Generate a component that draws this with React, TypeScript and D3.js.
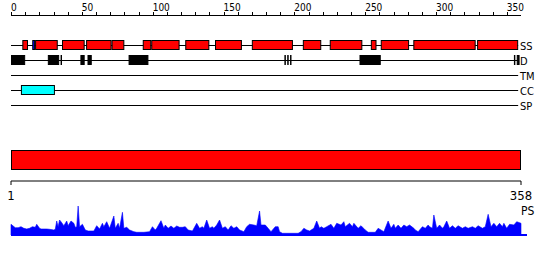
import React from "react";
import * as d3 from "d3";

const SEQ_LEN = 358;
const TOP_TICKS = d3.range(0, 351, 10);
const TOP_LABELS = [0, 50, 100, 150, 200, 250, 300, 350];
const TRACK_NAMES = ["SS", "D", "TM", "CC", "SP"];

// secondary structure: helices (red) and strand (blue), residue ranges
const HELICES: [number, number][] = [
  [8, 12], [17, 33], [36, 52], [53, 71], [71, 80], [93, 99], [99, 119],
  [123, 140], [144, 163], [170, 199], [206, 219], [225, 248], [254, 258],
  [261, 281], [284, 328], [329, 358],
];
const STRANDS: [number, number][] = [[15, 17]];
const DISORDER: [number, number][] = [
  [0, 10], [26, 34], [35, 36], [49, 52], [54, 57], [83, 97], [193, 194],
  [195, 196], [197, 198], [246, 261], [355, 356], [357, 359],
];
const COILED: [number, number][] = [[7, 31]];
const DOMAINS: [number, number][] = [[1, 358]];

// profile score per residue
const PS_RES = [
  1, 4, 6, 8, 10, 12, 14, 16, 18, 19, 21, 22, 26, 28, 31, 32, 33, 34, 35, 36,
  38, 40, 41, 43, 45, 46, 47, 48, 49, 51, 53, 55, 59, 61, 63, 65, 66, 68, 70, 73,
  74, 76, 77, 79, 80, 82, 84, 87, 89, 94, 98, 100, 102, 103, 106, 108, 109, 111, 113, 115,
  117, 119, 121, 123, 125, 128, 131, 133, 135, 136, 138, 140, 142, 143, 145, 147, 149, 151, 153, 155,
  157, 159, 161, 164, 166, 168, 171, 173, 175, 176, 179, 181, 183, 186, 188, 189, 191, 202, 204, 206,
  208, 210, 213, 215, 217, 218, 220, 222, 225, 227, 229, 232, 234, 235, 238, 240, 241, 244, 246, 249,
  251, 256, 258, 260, 262, 265, 267, 269, 270, 272, 274, 276, 278, 280, 283, 284, 286, 289, 291, 293,
  294, 296, 297, 299, 301, 303, 304, 306, 308, 310, 312, 314, 317, 319, 321, 324, 326, 328, 331, 333,
  335, 337, 339, 341, 343, 345, 346, 348, 350, 353, 355, 358,
];
const PS_VAL = [
  10.7, 7.3, 7.3, 8.3, 6.7, 6, 6.7, 8.3, 7.7, 10.7, 6.7, 6, 6, 5.7, 5, 5.7, 14, 8.3, 15, 13.3,
  9.3, 14, 9.3, 14, 11.7, 7.7, 8, 29, 8.3, 10.7, 5, 4, 4, 9.3, 6, 11.7, 8.3, 13.3, 6.7, 19,
  6.7, 11.7, 6.7, 22.7, 6.7, 7.7, 5, 3.3, 2.7, 2.7, 3.3, 8.3, 5, 6.7, 14.3, 6.7, 10, 6.7, 9, 6.7,
  9, 7.7, 7.7, 8.3, 5, 4, 11.7, 6.7, 8.3, 6.7, 15, 6.7, 8.3, 6.7, 10, 15, 6.7, 8.3, 5, 9.3,
  6.7, 8.3, 5, 3.3, 8.3, 10.7, 10, 9.3, 24, 10, 10, 6.7, 3.3, 8.3, 8.3, 3.3, 1.7, 1.7, 3.3, 6.7,
  5, 4, 6.7, 14, 6.7, 8.3, 6.7, 8.3, 10.7, 6.7, 11.7, 10, 13.3, 8.3, 11.7, 8.3, 11.7, 6.7, 9.3, 5,
  2.7, 2.7, 6.7, 5, 3.3, 14, 6.7, 10.7, 6.7, 10, 6.7, 10, 8.3, 10, 6.7, 5, 3.3, 8.3, 6.7, 10,
  8.3, 6.7, 20, 6.7, 10, 6.7, 8.3, 14, 6.7, 9.3, 6.7, 9.3, 6.7, 8.3, 6.7, 8.3, 6.7, 9.3, 6.7, 8.3,
  20.7, 8.3, 11.7, 8.3, 11.7, 8.3, 11.7, 6.7, 10.7, 10, 13.3, 11.7,
];

const W = 550;
const H = 260;
const FONT = "'Liberation Sans Narrow', 'DejaVu Sans Condensed', 'Liberation Sans', sans-serif";

export default function App() {
  const x = d3.scaleLinear().domain([0, 360]).range([11, 521]);
  const xb = d3.scaleLinear().domain([1, SEQ_LEN]).range([11, 521]);
  const trackY = d3.scalePoint<string>().domain(TRACK_NAMES).range([45, 105]);
  const yPs = d3.scaleLinear().domain([0, 30]).range([235, 205]);

  const psData = PS_RES.map((r, i) => [r, PS_VAL[i]] as [number, number]);
  const area = d3
    .area<[number, number]>()
    .x((d) => xb(d[0]))
    .y0(yPs(0))
    .y1((d) => yPs(d[1]))
    .curve(d3.curveLinear);

  const boxes = (
    data: [number, number][],
    track: string,
    fill: string,
    stroke: string | null
  ) =>
    data.map(([s, e], i) => (
      <rect
        key={track + fill + i}
        x={x(s) + 0.5}
        y={(trackY(track) as number) - 5 + 0.5}
        width={x(e) - x(s) - 1}
        height={9}
        fill={fill}
        stroke={stroke ?? "none"}
        strokeWidth={1}
      />
    ));

  return (
    <svg
      width={W}
      height={H}
      style={{ position: "absolute", left: 0, top: 0, background: "#fff" }}
      fontFamily={FONT}
    >
      <rect width={W} height={H} fill="#fff" />
      {/* top axis */}
      <line x1={x(0)} x2={x(360)} y1={15.5} y2={15.5} stroke="#000" />
      {TOP_TICKS.map((t) => (
        <line key={t} x1={Math.round(x(t)) + 0.5} x2={Math.round(x(t)) + 0.5} y1={12} y2={15} stroke="#000" />
      ))}
      {TOP_LABELS.map((t) => (
        <text key={t} x={x(t)} y={11} fontSize={10} fill="#000">
          {t}
        </text>
      ))}

      {/* tracks */}
      {TRACK_NAMES.map((n) => (
        <g key={n}>
          <line
            x1={x(0)}
            x2={x(SEQ_LEN)}
            y1={(trackY(n) as number) + 0.5}
            y2={(trackY(n) as number) + 0.5}
            stroke="#000"
          />
          <text x={520} y={(trackY(n) as number) + 4.5} fontSize={11} fill="#000">
            {n}
          </text>
        </g>
      ))}
      {boxes(HELICES, "SS", "#ff0000", "#000")}
      {boxes(STRANDS, "SS", "#0000ff", "#000")}
      {boxes(DISORDER, "D", "#000", "#000")}
      {boxes(COILED, "CC", "#00ffff", "#000")}

      {/* domain bar */}
      {DOMAINS.map(([s, e], i) => (
        <rect
          key={i}
          x={xb(s) + 0.5}
          y={150.5}
          width={xb(e) - xb(s) - 1}
          height={19}
          fill="#ff0000"
          stroke="#000"
        />
      ))}

      {/* bottom axis */}
      <line x1={xb(1)} x2={xb(SEQ_LEN)} y1={181} y2={181} stroke="#000" />
      {[1, SEQ_LEN].map((t) => (
        <g key={t}>
          <line x1={xb(t)} x2={xb(t)} y1={181} y2={185} stroke="#000" />
          <text x={xb(t)} y={200} fontSize={13} textAnchor="middle" fill="#000">
            {t}
          </text>
        </g>
      ))}
      <text x={521} y={215} fontSize={12} fill="#000">
        PS
      </text>

      {/* profile */}
      <path d={area(psData) ?? ""} fill="#0000ff" stroke="#0000ff" strokeWidth={0.6} />
      <line x1={xb(1)} x2={527} y1={235} y2={235} stroke="#0000ff" strokeWidth={2} />
    </svg>
  );
}
